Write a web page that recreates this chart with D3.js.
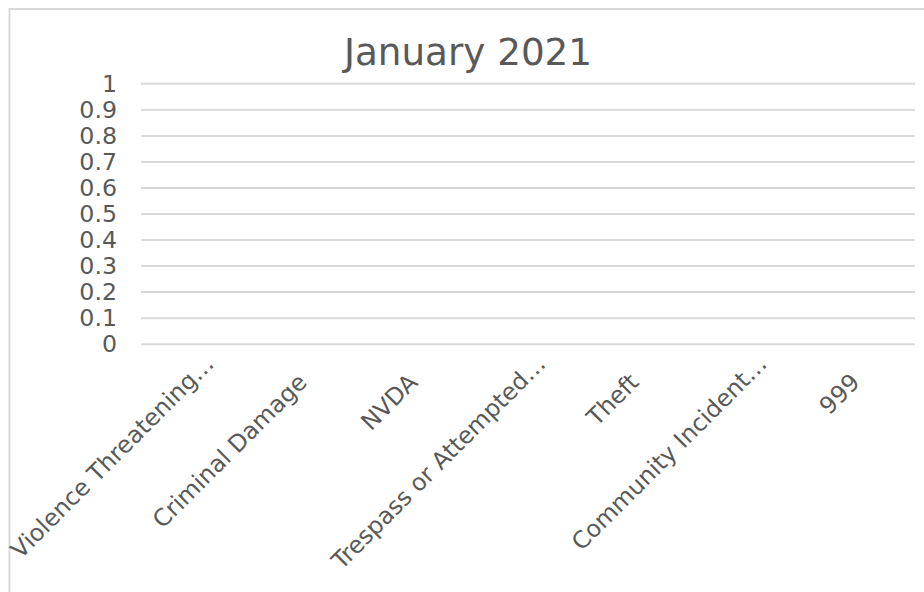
<!DOCTYPE html>
<html>
<head>
<meta charset="utf-8">
<script src="https://cdn.jsdelivr.net/npm/d3@7/dist/d3.min.js"></script>
<style>
  html, body { margin: 0; padding: 0; background: #ffffff; }
  svg { display: block; }
</style>
</head>
<body>
<svg id="chart" width="924" height="592"></svg>
<script>
// ---- data ----
const title = "January 2021";
const categories = [
  "Violence Threatening…",
  "Criminal Damage",
  "NVDA",
  "Trespass or Attempted…",
  "Theft",
  "Community Incident…",
  "999"
];
const values = [0, 0, 0, 0, 0, 0, 0];
const yTicks = [0, 0.1, 0.2, 0.3, 0.4, 0.5, 0.6, 0.7, 0.8, 0.9, 1];

// ---- layout ----
const W = 924, H = 592;
const plot = { left: 141, right: 915, top: 83.3, bottom: 343.7 };
const font = "'DejaVu Sans', Verdana, sans-serif";
const textColor = "#595959";
const gridColor = "#d9d9d9";

const svg = d3.select("#chart");

svg.append("rect")
  .attr("x", 0).attr("y", 0).attr("width", W).attr("height", H)
  .attr("fill", "#ffffff");

// chart-area border
svg.append("rect")
  .attr("x", 9.5).attr("y", 9)
  .attr("width", 940).attr("height", 620)
  .attr("fill", "none")
  .attr("stroke", gridColor)
  .attr("stroke-width", 2);

const x = d3.scaleBand()
  .domain(categories)
  .range([plot.left, plot.right])
  .paddingInner(0.45).paddingOuter(0.225);

const xCenter = d3.scaleBand()
  .domain(categories)
  .range([plot.left, plot.right]);

const y = d3.scaleLinear()
  .domain([0, 1])
  .range([plot.bottom, plot.top]);

// gridlines
const grid = svg.append("g")
  .attr("transform", `translate(${plot.left},0)`)
  .call(d3.axisLeft(y).tickValues(yTicks)
    .tickSize(-(plot.right - plot.left)).tickFormat(""));
grid.select(".domain").remove();
grid.selectAll(".tick line")
  .attr("stroke", gridColor)
  .attr("stroke-width", 2);

// y axis labels
const yAxis = svg.append("g")
  .attr("transform", `translate(${117},0)`)
  .call(d3.axisLeft(y).tickValues(yTicks).tickSize(0).tickPadding(0)
    .tickFormat(d => d3.format("~g")(d)));
yAxis.select(".domain").remove();
yAxis.selectAll(".tick text")
  .attr("fill", textColor)
  .style("font-family", font)
  .style("font-size", "23.7px")
  .attr("x", 0)
  .attr("dy", "0.35em");

// bars (all zero)
svg.append("g").selectAll("rect")
  .data(values)
  .join("rect")
  .attr("x", (d, i) => x(categories[i]))
  .attr("width", x.bandwidth())
  .attr("y", d => y(d))
  .attr("height", d => y(0) - y(d))
  .attr("fill", "#4472c4");

// x axis labels (rotated)
const xAxis = svg.append("g")
  .attr("transform", `translate(0,${plot.bottom})`)
  .call(d3.axisBottom(xCenter).tickSize(0).tickPadding(0));
xAxis.select(".domain").remove();
xAxis.selectAll(".tick text")
  .attr("fill", textColor)
  .style("font-family", font)
  .style("font-size", "23.7px")
  .attr("text-anchor", "end")
  .attr("x", 0)
  .attr("y", 0)
  .attr("dy", 0)
  .attr("transform", d => d.endsWith("…")
    ? "translate(19,21.5) rotate(-45)"
    : "translate(1.5,40) rotate(-45)");

// title
svg.append("text")
  .attr("x", 468)
  .attr("y", 65)
  .attr("text-anchor", "middle")
  .attr("fill", textColor)
  .style("font-family", font)
  .style("font-size", "37.3px")
  .text(title);
</script>
</body>
</html>
